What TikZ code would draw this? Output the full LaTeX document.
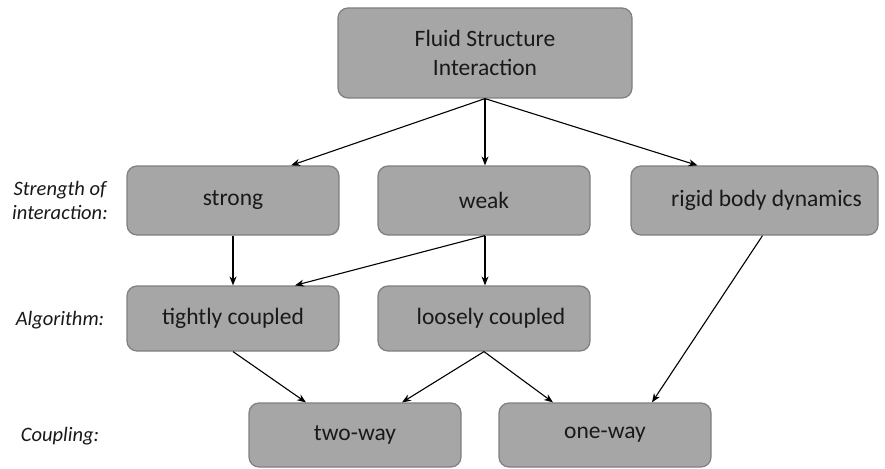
\documentclass[tikz,border=0pt]{standalone}
\usepackage{fontspec}
\setmainfont{Carlito}
\usetikzlibrary{arrows.meta,calc}
\definecolor{boxfill}{HTML}{A6A6A6}
\definecolor{boxline}{HTML}{7F7F7F}
\tikzset{
  box/.style={draw=boxline, line width=1.2pt, fill=boxfill, rounded corners=10pt,
    inner sep=0pt, align=center, font=\fontsize{23.5}{29}\selectfont, text=black!90},
  sidelabel/.style={align=center, font=\fontsize{20.5}{24}\selectfont\itshape, text=black!90},
  link/.style={-{Stealth[length=9pt,width=7pt]}, line width=1.1pt, black}
}
\begin{document}
\begin{tikzpicture}[x=1pt,y=-1pt]
\useasboundingbox (0,0) rectangle (885,468);
\node[box, minimum width=294pt, minimum height=90pt] (fsi) at (485,53) {Fluid Structure\\Interaction};
\node[box, minimum width=212pt, minimum height=69pt] (strong) at (233,200.5) {strong};
\node[box, minimum width=212pt, minimum height=69pt] (weak) at (484,200.5) {weak};
\node[box, minimum width=247pt, minimum height=69pt] (rigid) at (754.5,200.5) {\hspace*{24pt}rigid body dynamics};
\node[box, minimum width=212pt, minimum height=65pt] (tight) at (233,318.5) {tightly coupled};
\node[box, minimum width=212pt, minimum height=65pt] (loose) at (484,318.5) {\hspace*{14pt}loosely coupled};
\node[box, minimum width=212pt, minimum height=64pt] (two) at (355,435) {two-way};
\node[box, minimum width=212pt, minimum height=64pt] (one) at (605,435) {one-way};
\node[sidelabel] (lstr) at (60,200) {Strength of\\interaction:};
\node[sidelabel] (lalg) at (60,320) {Algorithm:};
\node[sidelabel] (lcpl) at (60,436) {Coupling:};
\draw[link] (fsi.south) -- ([xshift=58pt]strong.north);
\draw[link] (fsi.south) -- ([xshift=1pt]weak.north);
\draw[link] (fsi.south) -- ([xshift=-57pt]rigid.north);
\draw[link] (strong.south) -- (tight.north);
\draw[link] ([xshift=1pt]weak.south) -- ([xshift=62pt]tight.north);
\draw[link] ([xshift=1pt]weak.south) -- ([xshift=1pt]loose.north);
\draw[link] ([xshift=8pt]rigid.south) -- ([xshift=47pt]one.north);
\draw[link] (tight.south) -- ([xshift=-49pt]two.north);
\draw[link] (loose.south) -- ([xshift=47pt]two.north);
\draw[link] (loose.south) -- ([xshift=-52pt]one.north);
\end{tikzpicture}
\end{document}
